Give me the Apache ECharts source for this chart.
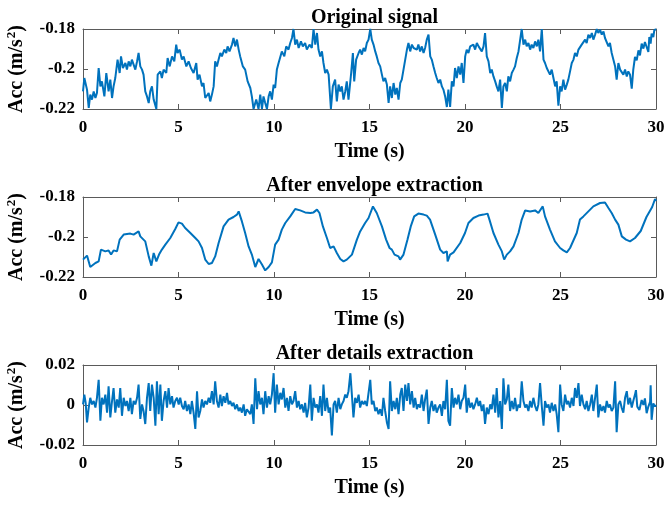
<!DOCTYPE html>
<html>
<head>
<meta charset="utf-8">
<script src="https://cdn.jsdelivr.net/npm/echarts@6/dist/echarts.min.js"></script>
<style>html,body{margin:0;padding:0;background:#fff}#c{width:665px;height:506px}</style>
</head>
<body>
<div id="c"></div>
<script>
// ---- Data ----
const panelTitles = ['Original signal', 'After envelope extraction', 'After details extraction'];
const timeTicks = [0, 5, 10, 15, 20, 25, 30];

const originalTime = [
0,0.07,0.14,0.21,0.30,0.38,0.47,0.56,0.65,0.73,
0.82,0.91,0.99,1.12,1.22,1.34,1.43,1.52,1.60,1.69,
1.81,1.92,1.99,2.09,2.22,2.30,2.39,2.48,2.56,2.65,
2.74,2.83,2.91,3.00,3.09,3.17,3.26,3.35,3.44,3.52,
3.61,3.70,3.84,3.91,4.05,4.13,4.22,4.36,4.43,4.54,
4.66,4.78,4.88,4.95,5.06,5.18,5.27,5.41,5.53,5.65,
5.79,5.93,6.00,6.10,6.23,6.31,6.40,6.49,6.58,6.66,
6.75,6.84,6.92,7.01,7.10,7.19,7.27,7.40,7.50,7.57,
7.67,7.80,7.88,7.97,8.06,8.15,8.23,8.37,8.49,8.62,
8.76,8.84,8.93,9.07,9.19,9.28,9.37,9.45,9.54,9.63,
9.72,9.80,9.89,9.98,10.06,10.15,10.24,10.33,10.41,10.54,
10.64,10.76,10.85,10.94,11.02,11.11,11.20,11.29,11.41,11.51,
11.63,11.72,11.86,11.98,12.07,12.16,12.25,12.33,12.42,12.51,
12.59,12.68,12.77,12.86,12.98,13.08,13.20,13.29,13.38,13.47,
13.55,13.64,13.73,13.81,13.90,14.04,14.13,14.20,14.30,14.43,
14.51,14.60,14.69,14.77,14.86,14.95,15.04,15.12,15.21,15.30,
15.38,15.47,15.56,15.65,15.73,15.82,15.91,16.00,16.08,16.17,
16.26,16.35,16.43,16.52,16.61,16.69,16.78,16.87,16.96,17.04,
17.13,17.22,17.31,17.39,17.48,17.56,17.65,17.74,17.83,17.91,
18.00,18.09,18.18,18.26,18.35,18.44,18.52,18.61,18.70,18.79,
18.87,18.96,19.05,19.13,19.22,19.31,19.40,19.48,19.57,19.66,
19.75,19.83,19.92,20.01,20.09,20.18,20.27,20.36,20.44,20.53,
20.62,20.71,20.79,20.88,20.97,21.05,21.14,21.23,21.32,21.40,
21.49,21.58,21.66,21.75,21.84,21.93,22.01,22.10,22.19,22.27,
22.36,22.45,22.54,22.62,22.71,22.80,22.88,22.97,23.06,23.15,
23.23,23.32,23.41,23.49,23.58,23.67,23.76,23.84,23.93,24.02,
24.11,24.19,24.28,24.37,24.45,24.54,24.63,24.72,24.80,24.89,
24.98,25.06,25.15,25.24,25.33,25.41,25.50,25.59,25.68,25.76,
25.85,25.94,26.02,26.11,26.20,26.29,26.37,26.46,26.55,26.64,
26.72,26.81,26.90,26.98,27.07,27.16,27.25,27.33,27.42,27.51,
27.59,27.68,27.77,27.86,27.94,28.03,28.12,28.20,28.29,28.38,
28.47,28.55,28.64,28.73,28.81,28.90,28.99,29.08,29.16,29.25,
29.34,29.42,29.51,29.60,29.65,29.72,29.77,29.86,29.91,30.00
];
const originalAcc = [
-0.2112,-0.2045,-0.2045,-0.2103,-0.2195,-0.2128,-0.2153,-0.2112,-0.2145,-0.2120,
-0.1995,-0.2087,-0.2062,-0.2137,-0.2020,-0.2112,-0.2053,-0.2145,-0.2087,-0.2045,
-0.1953,-0.2020,-0.1937,-0.1995,-0.1970,-0.2003,-0.1962,-0.1987,-0.1953,-0.1978,
-0.2003,-0.1962,-0.1920,-0.1987,-0.2003,-0.2028,-0.2112,-0.2137,-0.2170,-0.2112,
-0.2087,-0.2153,-0.2200,-0.2028,-0.2012,-0.2045,-0.2003,-0.2020,-0.1945,-0.1987,
-0.1937,-0.1962,-0.1878,-0.1920,-0.1903,-0.1953,-0.1937,-0.1987,-0.1962,-0.1995,
-0.2020,-0.1970,-0.2053,-0.2028,-0.2087,-0.2070,-0.2145,-0.2153,-0.2120,-0.2162,
-0.2128,-0.2087,-0.1962,-0.1987,-0.1953,-0.1920,-0.1937,-0.1903,-0.1920,-0.1887,
-0.1912,-0.1878,-0.1845,-0.1887,-0.1853,-0.1903,-0.1937,-0.1987,-0.2003,-0.2062,
-0.2095,-0.2137,-0.2200,-0.2153,-0.2200,-0.2128,-0.2200,-0.2137,-0.2170,-0.2200,
-0.2137,-0.2112,-0.2153,-0.2078,-0.2095,-0.2003,-0.1970,-0.1962,-0.1912,-0.1937,
-0.1887,-0.1903,-0.1870,-0.1845,-0.1800,-0.1878,-0.1853,-0.1895,-0.1862,-0.1887,
-0.1870,-0.1903,-0.1878,-0.1895,-0.1800,-0.1878,-0.1820,-0.1903,-0.1937,-0.1912,
-0.1970,-0.2020,-0.2003,-0.2028,-0.2200,-0.2087,-0.2053,-0.2162,-0.2078,-0.2112,
-0.2087,-0.2153,-0.2112,-0.2062,-0.2153,-0.2020,-0.1920,-0.2062,-0.1953,-0.1920,
-0.1903,-0.1928,-0.1895,-0.1912,-0.1870,-0.1853,-0.1800,-0.1853,-0.1878,-0.1912,
-0.1937,-0.1970,-0.1987,-0.2028,-0.2062,-0.2045,-0.2078,-0.2170,-0.2087,-0.2145,
-0.2070,-0.2128,-0.2095,-0.2153,-0.2070,-0.2053,-0.2003,-0.1953,-0.1903,-0.1870,
-0.1912,-0.1878,-0.1895,-0.1887,-0.1903,-0.1878,-0.1912,-0.1887,-0.1920,-0.1895,
-0.1853,-0.1828,-0.1937,-0.1953,-0.1987,-0.2020,-0.2045,-0.2070,-0.2053,-0.2087,
-0.2103,-0.2137,-0.2190,-0.2103,-0.2190,-0.2062,-0.2087,-0.1995,-0.2045,-0.1987,
-0.2028,-0.1970,-0.2070,-0.1937,-0.1903,-0.1920,-0.1887,-0.1895,-0.1878,-0.1903,
-0.1870,-0.1887,-0.1878,-0.1912,-0.1887,-0.1820,-0.1937,-0.1962,-0.2020,-0.2003,
-0.2037,-0.2062,-0.2087,-0.2112,-0.2053,-0.2195,-0.2087,-0.2070,-0.2112,-0.2037,
-0.2062,-0.2020,-0.2003,-0.1987,-0.1945,-0.1912,-0.1920,-0.1800,-0.1878,-0.1853,
-0.1887,-0.1870,-0.1903,-0.1878,-0.1895,-0.1862,-0.1887,-0.1853,-0.1912,-0.1800,
-0.1953,-0.1970,-0.1995,-0.2003,-0.2028,-0.2003,-0.2045,-0.2087,-0.2062,-0.2183,
-0.2087,-0.2112,-0.2053,-0.2103,-0.2078,-0.2053,-0.2012,-0.1970,-0.1953,-0.1920,
-0.1937,-0.1903,-0.1912,-0.1878,-0.1887,-0.1853,-0.1870,-0.1828,-0.1845,-0.1820,
-0.1853,-0.1828,-0.1800,-0.1820,-0.1803,-0.1828,-0.1812,-0.1845,-0.1853,-0.1887,
-0.1870,-0.1920,-0.1912,-0.1987,-0.2053,-0.1970,-0.2003,-0.2012,-0.2028,-0.2003,
-0.2037,-0.2012,-0.2028,-0.2098,-0.2003,-0.1940,-0.1957,-0.1907,-0.1932,-0.1873,
-0.1898,-0.1865,-0.1890,-0.1915,-0.1840,-0.1873,-0.1823,-0.1840,-0.1807,-0.1800
];

const envelopeTime = [
0,0.21,0.38,0.65,0.82,0.94,1.17,1.34,1.47,1.60,
1.78,1.92,2.13,2.48,2.65,2.91,3.00,3.26,3.44,3.58,
3.70,3.84,3.98,4.13,4.31,4.57,4.83,5.00,5.18,5.35,
5.62,5.88,6.05,6.23,6.40,6.58,6.75,6.92,7.10,7.36,
7.62,7.88,8.06,8.15,8.32,8.49,8.67,8.84,9.02,9.19,
9.37,9.54,9.72,9.89,10.06,10.24,10.41,10.59,10.85,11.11,
11.37,11.63,11.90,12.07,12.25,12.38,12.56,12.77,12.94,13.12,
13.29,13.47,13.64,13.81,14.08,14.34,14.51,14.77,14.95,15.18,
15.38,15.65,15.87,16.05,16.17,16.31,16.52,16.60,16.78,16.99,
17.16,17.34,17.56,17.83,18.00,18.17,18.44,18.70,18.87,19.05,
19.09,19.22,19.40,19.75,20.00,20.18,20.44,20.71,20.97,21.18,
21.28,21.49,21.75,21.93,22.05,22.19,22.36,22.54,22.80,22.97,
23.15,23.41,23.67,23.84,24.07,24.19,24.45,24.71,24.98,25.15,
25.33,25.50,25.85,26.02,26.20,26.46,26.72,27.07,27.33,27.51,
27.68,27.86,28.03,28.21,28.43,28.64,28.90,29.20,29.50,29.80,
29.95,30.00
];
const envelopeAcc = [
-0.2113,-0.2093,-0.2150,-0.2130,-0.2122,-0.2063,-0.2072,-0.2067,-0.2088,-0.2067,
-0.2072,-0.2013,-0.1988,-0.1983,-0.1988,-0.1972,-0.1997,-0.2022,-0.2097,-0.2143,
-0.2080,-0.2122,-0.2088,-0.2063,-0.2038,-0.2005,-0.1960,-0.1927,-0.1933,-0.1955,
-0.1980,-0.2005,-0.2022,-0.2055,-0.2113,-0.2135,-0.2130,-0.2097,-0.2030,-0.1947,
-0.1913,-0.1900,-0.1888,-0.1872,-0.1922,-0.1980,-0.2047,-0.2088,-0.2150,-0.2110,
-0.2138,-0.2167,-0.2150,-0.2127,-0.2038,-0.2013,-0.1963,-0.1930,-0.1897,-0.1860,
-0.1867,-0.1877,-0.1880,-0.1877,-0.1863,-0.1880,-0.1947,-0.2005,-0.2055,-0.2047,
-0.2080,-0.2110,-0.2122,-0.2113,-0.2088,-0.2013,-0.1972,-0.1930,-0.1905,-0.1847,
-0.1880,-0.1947,-0.2013,-0.2055,-0.2063,-0.2088,-0.2097,-0.2113,-0.2088,-0.2013,
-0.1947,-0.1897,-0.1883,-0.1888,-0.1893,-0.1913,-0.1988,-0.2063,-0.2080,-0.2072,
-0.2122,-0.2088,-0.2077,-0.2030,-0.1980,-0.1930,-0.1905,-0.1893,-0.1888,-0.1883,
-0.1913,-0.1980,-0.2038,-0.2072,-0.2113,-0.2088,-0.2072,-0.2047,-0.1980,-0.1913,
-0.1867,-0.1872,-0.1867,-0.1880,-0.1847,-0.1897,-0.1963,-0.2022,-0.2055,-0.2067,
-0.2077,-0.2055,-0.1980,-0.1913,-0.1897,-0.1872,-0.1847,-0.1830,-0.1827,-0.1855,
-0.1880,-0.1913,-0.1938,-0.1997,-0.2013,-0.2022,-0.2005,-0.1970,-0.1900,-0.1850,
-0.1810,-0.1820
];

const detailsTime = [
0,0.07,0.14,0.21,0.30,0.38,0.47,0.56,0.65,0.73,
0.82,0.91,0.99,1.08,1.17,1.26,1.34,1.43,1.52,1.60,
1.69,1.78,1.87,1.95,2.04,2.13,2.22,2.30,2.39,2.48,
2.56,2.65,2.74,2.83,2.91,3.00,3.09,3.17,3.26,3.35,
3.44,3.52,3.61,3.70,3.79,3.87,3.96,4.05,4.13,4.22,
4.31,4.40,4.48,4.57,4.66,4.74,4.83,4.92,5.01,5.09,
5.18,5.27,5.35,5.44,5.53,5.62,5.70,5.79,5.88,5.97,
6.05,6.14,6.23,6.31,6.40,6.49,6.58,6.66,6.75,6.84,
6.92,7.01,7.10,7.19,7.27,7.36,7.45,7.54,7.62,7.71,
7.80,7.88,7.97,8.06,8.15,8.23,8.32,8.41,8.49,8.58,
8.67,8.76,8.84,8.93,9.02,9.11,9.19,9.28,9.37,9.45,
9.54,9.63,9.72,9.80,9.89,9.98,10.06,10.15,10.24,10.33,
10.41,10.50,10.59,10.68,10.76,10.85,10.94,11.02,11.11,11.20,
11.29,11.37,11.46,11.55,11.63,11.72,11.81,11.90,11.98,12.07,
12.16,12.25,12.33,12.42,12.51,12.59,12.68,12.77,12.86,12.94,
13.03,13.12,13.20,13.29,13.38,13.47,13.55,13.64,13.73,13.81,
13.90,14.00,14.16,14.25,14.34,14.43,14.51,14.60,14.69,14.77,
14.86,14.95,15.04,15.12,15.21,15.30,15.38,15.47,15.56,15.65,
15.73,15.82,15.91,16.00,16.08,16.17,16.26,16.35,16.43,16.52,
16.61,16.69,16.78,16.87,16.96,17.04,17.13,17.22,17.31,17.39,
17.48,17.56,17.65,17.74,17.83,17.91,18.00,18.09,18.18,18.26,
18.35,18.44,18.52,18.61,18.70,18.79,18.87,18.96,19.05,19.13,
19.22,19.31,19.40,19.48,19.57,19.66,19.75,19.83,19.92,20.01,
20.09,20.18,20.27,20.36,20.44,20.53,20.62,20.71,20.79,20.88,
20.97,21.05,21.14,21.23,21.32,21.40,21.49,21.58,21.66,21.75,
21.84,21.93,22.01,22.10,22.19,22.27,22.36,22.45,22.54,22.62,
22.71,22.80,22.88,22.97,23.06,23.15,23.23,23.32,23.41,23.49,
23.58,23.67,23.76,23.84,23.93,24.02,24.11,24.19,24.28,24.37,
24.45,24.54,24.63,24.72,24.80,24.89,24.98,25.06,25.15,25.24,
25.33,25.41,25.50,25.59,25.68,25.76,25.85,25.94,26.02,26.11,
26.20,26.29,26.37,26.46,26.55,26.64,26.72,26.81,26.90,26.98,
27.07,27.16,27.25,27.33,27.42,27.51,27.59,27.68,27.77,27.86,
27.94,28.03,28.12,28.20,28.29,28.38,28.47,28.55,28.64,28.73,
28.81,28.90,28.95,29.02,29.13,29.25,29.34,29.42,29.51,29.60,
29.69,29.72,29.77,29.86,29.95,30.00
];
const detailsAcc = [
0.0003,0.0052,0.0011,-0.0087,-0.0013,0.0036,0.0003,0.0020,-0.0013,0.0036,
0.0126,-0.0079,0.0036,0.0003,0.0052,-0.0038,0.0093,-0.0062,0.0020,0.0085,
-0.0038,0.0028,-0.0013,0.0085,-0.0054,0.0036,-0.0005,0.0020,-0.0030,0.0036,
-0.0046,0.0020,0.0003,0.0036,0.0102,-0.0070,0.0003,-0.0030,-0.0095,0.0036,
0.0110,-0.0030,0.0102,0.0036,-0.0103,0.0118,-0.0046,0.0102,-0.0079,0.0020,
0.0069,-0.0013,0.0085,0.0003,0.0044,-0.0013,0.0020,0.0036,0.0003,0.0036,
-0.0005,-0.0021,0.0020,-0.0030,0.0003,-0.0046,0.0020,-0.0038,-0.0120,0.0069,
-0.0062,-0.0030,0.0028,-0.0013,0.0020,0.0003,0.0036,0.0011,0.0069,0.0003,
0.0118,0.0020,-0.0013,0.0052,-0.0005,0.0044,0.0011,0.0061,0.0003,0.0020,
-0.0005,0.0011,-0.0021,0.0003,-0.0030,-0.0013,-0.0038,0.0003,-0.0054,-0.0021,
-0.0030,-0.0046,0.0003,-0.0095,0.0134,-0.0021,0.0069,0.0003,0.0036,-0.0046,
0.0069,-0.0013,0.0044,0.0003,0.0052,0.0159,-0.0038,0.0102,0.0003,0.0061,
0.0028,0.0085,-0.0013,0.0036,-0.0030,0.0044,0.0003,0.0020,0.0069,-0.0013,
0.0020,-0.0021,0.0003,-0.0038,0.0011,-0.0062,-0.0013,0.0102,-0.0079,0.0036,
-0.0013,0.0003,-0.0038,0.0044,-0.0054,0.0102,-0.0030,0.0036,-0.0038,-0.0013,
-0.0152,0.0003,0.0020,-0.0038,0.0036,-0.0021,0.0003,0.0020,0.0052,0.0036,
0.0069,0.0159,-0.0062,0.0036,0.0011,0.0052,-0.0013,0.0020,0.0003,0.0020,
-0.0005,0.0003,0.0126,0.0003,0.0020,-0.0030,-0.0013,-0.0046,-0.0021,-0.0054,
0.0036,-0.0030,-0.0087,-0.0120,0.0118,-0.0030,0.0020,-0.0021,0.0036,-0.0046,
0.0052,0.0085,-0.0030,0.0102,0.0020,0.0110,0.0003,0.0069,-0.0013,0.0036,
-0.0021,0.0003,-0.0013,0.0052,-0.0030,0.0028,0.0077,-0.0095,-0.0013,0.0020,
-0.0030,0.0003,-0.0038,-0.0013,0.0003,-0.0054,0.0020,-0.0021,0.0126,-0.0079,
-0.0103,0.0085,-0.0013,0.0036,0.0003,0.0052,-0.0021,0.0020,0.0036,0.0102,
-0.0038,0.0036,-0.0013,0.0011,-0.0021,0.0003,0.0036,-0.0005,0.0020,-0.0030,
0.0003,-0.0095,-0.0013,-0.0046,0.0003,-0.0021,0.0052,-0.0038,0.0085,-0.0062,
0.0020,-0.0120,0.0134,0.0003,0.0028,0.0102,-0.0030,0.0020,-0.0021,0.0036,
-0.0030,0.0003,-0.0013,0.0118,0.0020,-0.0013,0.0003,-0.0030,0.0020,-0.0013,
0.0036,-0.0005,-0.0030,0.0003,0.0110,-0.0005,-0.0103,0.0020,-0.0013,0.0003,
-0.0038,0.0011,-0.0030,0.0003,-0.0046,-0.0136,0.0102,0.0003,-0.0030,0.0052,
0.0003,0.0020,-0.0013,0.0036,-0.0005,0.0085,0.0036,0.0110,-0.0005,0.0052,
0.0003,-0.0021,0.0020,-0.0030,0.0003,0.0052,-0.0030,0.0036,0.0102,-0.0062,
0.0003,-0.0030,-0.0005,-0.0038,0.0020,-0.0013,0.0003,-0.0030,-0.0013,0.0118,
-0.0136,0.0003,0.0020,-0.0013,-0.0038,0.0036,0.0069,0.0003,0.0036,-0.0013,
0.0020,0.0052,0.0074,-0.0008,-0.0025,0.0025,0,0.0033,-0.0041,-0.0008,
0.0016,0.0098,-0.0074,0.0008,-0.0008,0
];

const yRanges = [
  { min: -0.22, max: -0.18, interval: 0.02 },
  { min: -0.22, max: -0.18, interval: 0.02 },
  { min: -0.02, max: 0.02, interval: 0.02 }
];

// ---- Chart ----
const FONT = "'Liberation Serif','Times New Roman',serif";
const AX = '#5a5a5a';
const LINE = '#0072BD';
const gridTops = [29, 197, 365];
const gridH = 80;
const plotLeft = 83, plotRight = 9;
const centerX = plotLeft + (665 - plotLeft - plotRight) / 2;

function pairs(t, v) { return t.map((x, i) => [x, v[i]]); }
const seriesData = [pairs(originalTime, originalAcc), pairs(envelopeTime, envelopeAcc), pairs(detailsTime, detailsAcc)];

function fmt(v) { const r = Math.round(v * 100) / 100; return r === 0 ? '0' : String(r); }

const labelStyle = { fontFamily: FONT, fontWeight: 'bold', fontSize: 17, color: '#000' };
const nameStyle = { fontFamily: FONT, fontWeight: 'bold', fontSize: 20, color: '#000' };

const grid = [], xAxis = [], yAxis = [], series = [], title = [];
for (let i = 0; i < 3; i++) {
  grid.push({ left: plotLeft, right: plotRight, top: gridTops[i], height: gridH, containLabel: false, outerBoundsMode: 'none' });
  title.push({
    text: panelTitles[i], left: centerX, top: gridTops[i] - 26, textAlign: 'center',
    textStyle: { fontFamily: FONT, fontWeight: 'bold', fontSize: 20, color: '#000' }
  });
  const common = {
    gridIndex: i, type: 'value',
    axisLine: { show: true, onZero: false, lineStyle: { color: AX, width: 1 } },
    axisTick: { show: true, inside: true, length: 5, lineStyle: { color: AX, width: 1 } },
    splitLine: { show: false }
  };
  xAxis.push(Object.assign({}, common, {
    position: 'bottom', min: timeTicks[0], max: timeTicks[timeTicks.length - 1], interval: 5,
    axisLabel: Object.assign({ margin: 10 }, labelStyle),
    name: 'Time (s)', nameLocation: 'middle', nameGap: 33, nameTextStyle: nameStyle
  }));
  xAxis.push(Object.assign({}, common, {
    position: 'top', min: timeTicks[0], max: timeTicks[timeTicks.length - 1], interval: 5,
    axisLabel: { show: false }
  }));
  yAxis.push(Object.assign({}, common, {
    position: 'left', min: yRanges[i].min, max: yRanges[i].max, interval: yRanges[i].interval,
    axisLabel: Object.assign({ margin: 8, formatter: fmt }, labelStyle),
    name: 'Acc (m/s{sup|2})', nameLocation: 'middle', nameGap: 45,
    nameTextStyle: Object.assign({}, nameStyle, {
      lineHeight: 24,
      rich: { sup: { fontFamily: FONT, fontWeight: 'bold', fontSize: 13, color: '#000', verticalAlign: 'top', lineHeight: 24, padding: [0, 0, 10, 1] } }
    })
  }));
  yAxis.push(Object.assign({}, common, {
    position: 'right', min: yRanges[i].min, max: yRanges[i].max, interval: yRanges[i].interval,
    axisLabel: { show: false }
  }));
  series.push({
    type: 'line', xAxisIndex: 2 * i, yAxisIndex: 2 * i, data: seriesData[i],
    symbol: 'none', showSymbol: false, clip: true,
    lineStyle: { color: LINE, width: 2 }, animation: false
  });
}

const chart = echarts.init(document.getElementById('c'), null, { renderer: 'canvas' });
chart.setOption({ animation: false, backgroundColor: '#fff', title, grid, xAxis, yAxis, series });
</script>
</body>
</html>
